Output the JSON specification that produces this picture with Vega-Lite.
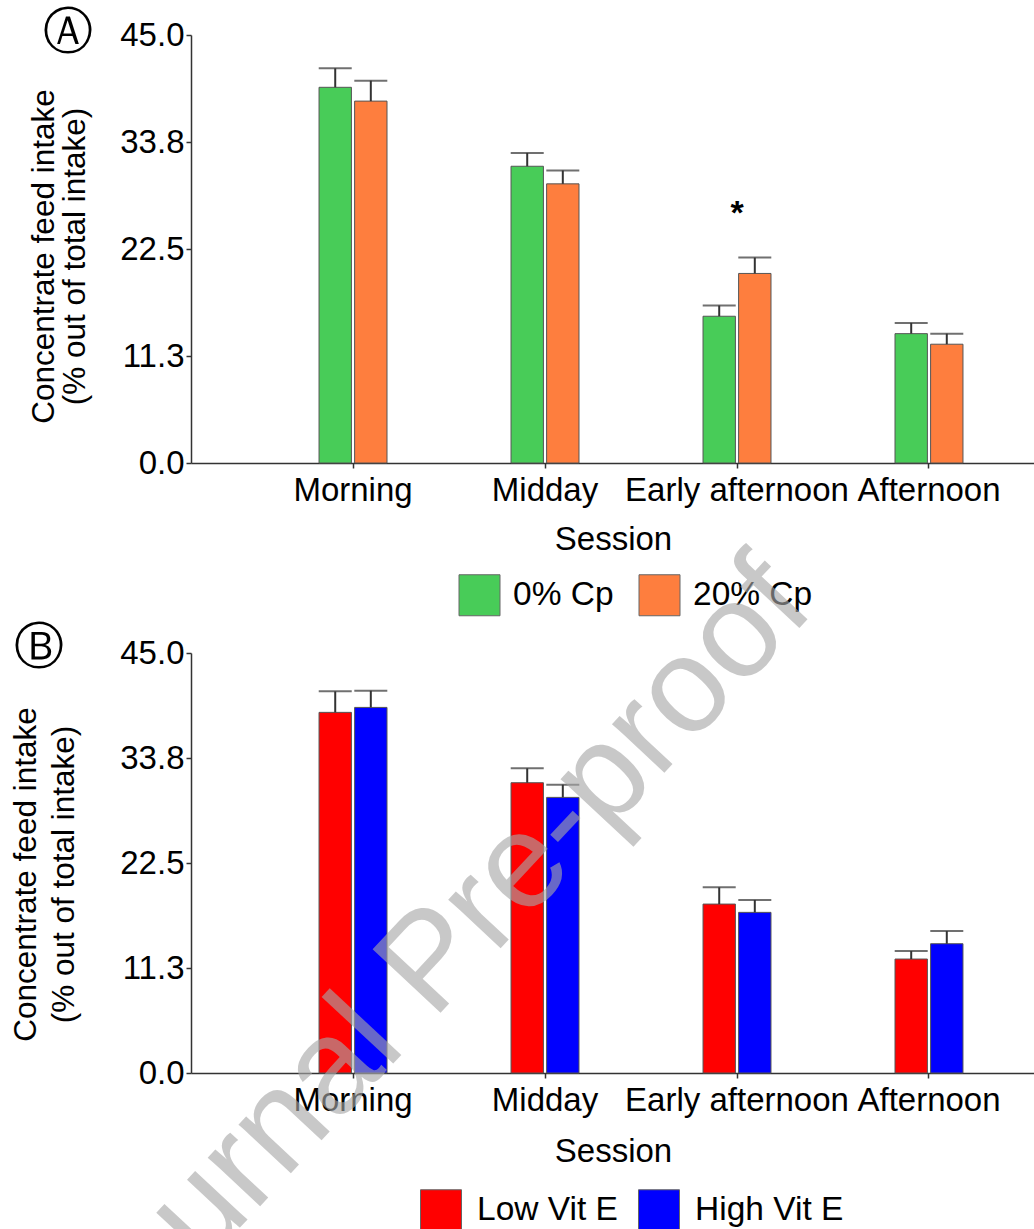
{
  "$schema": "https://vega.github.io/schema/vega-lite/v6.json",
  "autosize": {"type": "pad"},
  "padding": {"left": 10, "top": 8, "right": 0, "bottom": 0},
  "background": "white",
  "config": {
    "font": "Liberation Sans",
    "view": {"stroke": null},
    "axis": {
      "labelFont": "Liberation Sans",
      "titleFont": "Liberation Sans",
      "labelColor": "black",
      "titleColor": "black",
      "domainColor": "#333333",
      "tickColor": "#333333",
      "domainWidth": 1.5,
      "tickWidth": 1.5,
      "tickSize": 5,
      "grid": false,
      "titleFontWeight": "normal",
      "labelLimit": 400
    },
    "legend": {
      "padding": 0,
      "labelFont": "Liberation Sans",
      "labelColor": "black",
      "labelFontSize": 33.5,
      "labelLimit": 400,
      "symbolType": "square",
      "symbolSize": 1681,
      "symbolStrokeColor": "#666666",
      "symbolStrokeWidth": 1,
      "symbolOpacity": 1,
      "direction": "horizontal",
      "orient": "none"
    }
  },
  "spacing": 190,
  "bounds": "flush",
  "resolve": {
    "scale": {"color": "independent", "x": "independent", "y": "independent", "xOffset": "independent"},
    "legend": {"color": "independent"}
  },
  "vconcat": [
    {
      "width": 844,
      "height": 428,
      "title": {"text": "Ⓐ", "orient": "top", "anchor": "start", "frame": "group", "font": "DejaVu Sans", "fontSize": 50, "fontWeight": "normal", "color": "black", "baseline": "middle", "dx": -148, "offset": -64},
      "data": {"values": [
        {"session": "Morning", "group": "0% Cp", "mean": 39.5, "upper": 41.5},
        {"session": "Morning", "group": "20% Cp", "mean": 38.05, "upper": 40.2},
        {"session": "Midday", "group": "0% Cp", "mean": 31.2, "upper": 32.6},
        {"session": "Midday", "group": "20% Cp", "mean": 29.35, "upper": 30.76},
        {"session": "Early afternoon", "group": "0% Cp", "mean": 15.43, "upper": 16.56},
        {"session": "Early afternoon", "group": "20% Cp", "mean": 19.93, "upper": 21.6},
        {"session": "Afternoon", "group": "0% Cp", "mean": 13.6, "upper": 14.73},
        {"session": "Afternoon", "group": "20% Cp", "mean": 12.49, "upper": 13.6}
      ]},
      "layer": [
        {
          "mark": {"type": "bar", "stroke": "#555555", "strokeWidth": 1},
          "encoding": {
            "x": {"field": "session", "type": "nominal", "sort": ["Morning", "Midday", "Early afternoon", "Afternoon"], "title": "Session",
              "scale": {"paddingInner": 0.646, "paddingOuter": 0.521, "align": 0.64},
              "axis": {"labelFontSize": 33, "labelAngle": 0, "labelPadding": 6, "titleFontSize": 33, "titlePadding": 16, "bandPosition": 0.5, "labelOverlap": false, "labelBound": false, "labelFlush": false, "labelLimit": 400}},
            "xOffset": {"field": "group", "type": "nominal", "sort": ["0% Cp", "20% Cp"], "scale": {"paddingInner": 0.09, "paddingOuter": 0}},
            "y": {"field": "mean", "type": "quantitative", "title": ["Concentrate feed intake", "(% out of total intake)"],
              "scale": {"domain": [0, 45], "nice": false},
              "axis": {"values": [0, 11.25, 22.5, 33.75, 45], "format": ".1f", "labelFontSize": 33, "labelPadding": 2, "titleFontSize": 31.5, "titleLineHeight": 31, "titleAngle": 270, "titleBaseline": "top", "titleAlign": "center", "titleX": -163, "titleY": 221}},
            "color": {"field": "group", "type": "nominal", "sort": ["0% Cp", "20% Cp"],
              "scale": {"domain": ["0% Cp", "20% Cp"], "range": ["#48CC58", "#FE7E3E"]},
              "legend": {"title": null, "legendX": 267.5, "legendY": 539, "labelOffset": 12.5, "columnPadding": 22}}
          }
        },
        {
          "mark": {"type": "rule", "color": "#333333", "strokeWidth": 2},
          "encoding": {
            "x": {"field": "session", "type": "nominal", "sort": ["Morning", "Midday", "Early afternoon", "Afternoon"], "title": "Session"},
            "xOffset": {"field": "group", "type": "nominal", "sort": ["0% Cp", "20% Cp"]},
            "y": {"field": "mean", "type": "quantitative", "title": ["Concentrate feed intake", "(% out of total intake)"]},
            "y2": {"field": "upper"}
          }
        },
        {
          "mark": {"type": "tick", "color": "#333333", "thickness": 2, "size": 33},
          "encoding": {
            "x": {"field": "session", "type": "nominal", "sort": ["Morning", "Midday", "Early afternoon", "Afternoon"], "title": "Session"},
            "xOffset": {"field": "group", "type": "nominal", "sort": ["0% Cp", "20% Cp"]},
            "y": {"field": "upper", "type": "quantitative", "title": ["Concentrate feed intake", "(% out of total intake)"]}
          }
        },
        {
          "data": {"values": [{"session": "Early afternoon", "sig": "*"}]},
          "mark": {"type": "text", "fontSize": 34, "fontWeight": "bold", "baseline": "alphabetic", "align": "center", "color": "black"},
          "encoding": {
            "x": {"field": "session", "type": "nominal", "sort": ["Morning", "Midday", "Early afternoon", "Afternoon"], "title": "Session"},
            "y": {"datum": 25.1, "type": "quantitative", "title": ["Concentrate feed intake", "(% out of total intake)"]},
            "text": {"field": "sig"}
          }
        }
      ]
    },
    {
      "width": 844,
      "height": 420,
      "title": {"text": "Ⓑ", "orient": "top", "anchor": "start", "frame": "group", "font": "DejaVu Sans", "fontSize": 50, "fontWeight": "normal", "color": "black", "baseline": "middle", "dx": -177, "offset": -162},
      "data": {"values": [
        {"session": "Morning", "group": "Low Vit E", "mean": 38.64, "upper": 40.89},
        {"session": "Morning", "group": "High Vit E", "mean": 39.17, "upper": 40.96},
        {"session": "Midday", "group": "Low Vit E", "mean": 31.1, "upper": 32.64},
        {"session": "Midday", "group": "High Vit E", "mean": 29.53, "upper": 30.89},
        {"session": "Early afternoon", "group": "Low Vit E", "mean": 18.1, "upper": 19.89},
        {"session": "Early afternoon", "group": "High Vit E", "mean": 17.21, "upper": 18.54},
        {"session": "Afternoon", "group": "Low Vit E", "mean": 12.21, "upper": 13.07},
        {"session": "Afternoon", "group": "High Vit E", "mean": 13.85, "upper": 15.21}
      ]},
      "layer": [
        {
          "mark": {"type": "bar", "stroke": "#555555", "strokeWidth": 1},
          "encoding": {
            "x": {"field": "session", "type": "nominal", "sort": ["Morning", "Midday", "Early afternoon", "Afternoon"], "title": "Session",
              "scale": {"paddingInner": 0.646, "paddingOuter": 0.521, "align": 0.64},
              "axis": {"labelFontSize": 33, "labelAngle": 0, "labelPadding": 6, "titleFontSize": 33, "titlePadding": 18, "bandPosition": 0.5, "labelOverlap": false, "labelBound": false, "labelFlush": false, "labelLimit": 400}},
            "xOffset": {"field": "group", "type": "nominal", "sort": ["Low Vit E", "High Vit E"], "scale": {"paddingInner": 0.09, "paddingOuter": 0}},
            "y": {"field": "mean", "type": "quantitative", "title": ["Concentrate feed intake", "(% out of total intake)"],
              "scale": {"domain": [0, 45], "nice": false},
              "axis": {"values": [0, 11.25, 22.5, 33.75, 45], "format": ".1f", "labelFontSize": 33, "labelPadding": 2, "titleFontSize": 31.5, "titleLineHeight": 37.5, "titleAngle": 270, "titleBaseline": "top", "titleAlign": "center", "titleX": -180.5, "titleY": 221}},
            "color": {"field": "group", "type": "nominal", "sort": ["Low Vit E", "High Vit E"],
              "scale": {"domain": ["Low Vit E", "High Vit E"], "range": ["#FF0000", "#0000FF"]},
              "legend": {"title": null, "legendX": 229, "legendY": 536, "labelOffset": 15, "columnPadding": 18}}
          }
        },
        {
          "mark": {"type": "rule", "color": "#333333", "strokeWidth": 2},
          "encoding": {
            "x": {"field": "session", "type": "nominal", "sort": ["Morning", "Midday", "Early afternoon", "Afternoon"], "title": "Session"},
            "xOffset": {"field": "group", "type": "nominal", "sort": ["Low Vit E", "High Vit E"]},
            "y": {"field": "mean", "type": "quantitative", "title": ["Concentrate feed intake", "(% out of total intake)"]},
            "y2": {"field": "upper"}
          }
        },
        {
          "mark": {"type": "tick", "color": "#333333", "thickness": 2, "size": 33},
          "encoding": {
            "x": {"field": "session", "type": "nominal", "sort": ["Morning", "Midday", "Early afternoon", "Afternoon"], "title": "Session"},
            "xOffset": {"field": "group", "type": "nominal", "sort": ["Low Vit E", "High Vit E"]},
            "y": {"field": "upper", "type": "quantitative", "title": ["Concentrate feed intake", "(% out of total intake)"]}
          }
        },
        {
          "data": {"values": [{"wm": "Journal Pre-proof"}]},
          "mark": {"type": "text", "fontSize": 135, "font": "Liberation Sans", "fill": "#a8a8a8", "opacity": 0.62, "angle": -47, "align": "center", "baseline": "alphabetic", "dx": 158.4},
          "encoding": {
            "x": {"datum": "Morning", "type": "nominal"},
            "y": {"datum": -3.59, "type": "quantitative", "title": ["Concentrate feed intake", "(% out of total intake)"]},
            "text": {"field": "wm"}
          }
        }
      ]
    }
  ]
}
